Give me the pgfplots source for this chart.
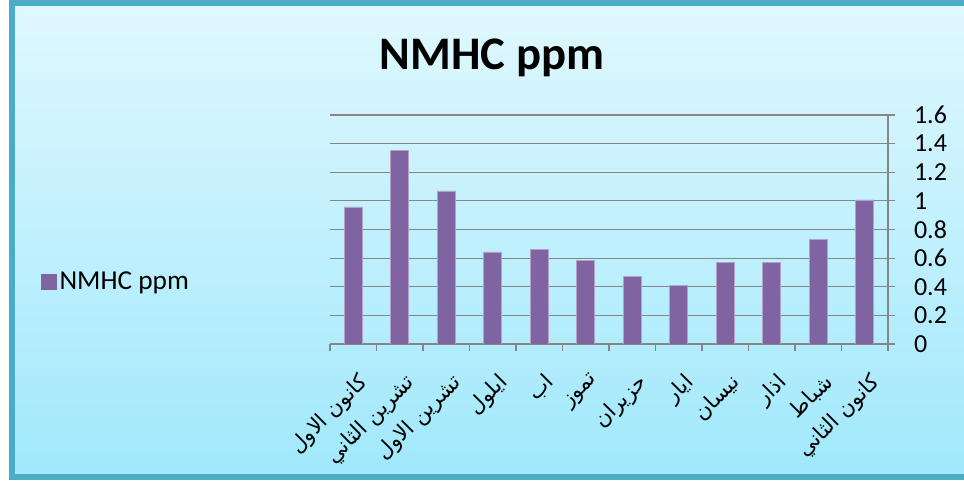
\documentclass[border=0pt]{standalone}
\usepackage{pgfplots}
\pgfplotsset{compat=1.18}
\usepackage{fontspec}
\setmainfont{Carlito}
\newfontfamily\arabicfont[Script=Arabic]{DejaVu Sans}
\TeXXeTstate=1
\definecolor{bgtop}{RGB}{224,248,254}
\definecolor{bgbot}{RGB}{160,232,252}
\definecolor{framec}{RGB}{75,172,198}
\definecolor{barc}{RGB}{128,100,162}
\definecolor{baredge}{RGB}{178,162,199}
\definecolor{gridc}{RGB}{134,134,134}
\pgfplotstableread{
x v
0 0.958
1 1.355
2 1.070
3 0.643
4 0.659
5 0.582
6 0.470
7 0.409
8 0.572
9 0.568
10 0.729
11 1.007
}\datatable
\begin{document}
\begin{tikzpicture}
\useasboundingbox (0,0) rectangle (723pt,360.75pt);
\clip (0,0) rectangle (723pt,360.75pt);
\fill[white] (0,0) rectangle (723pt,360.75pt);
\shade[top color=bgtop, bottom color=bgbot] (9pt,3pt) rectangle (730pt,358.5pt);
\draw[framec, line width=4.5pt] (9pt,3pt) rectangle (730pt,358.5pt);
\node[font=\fontsize{35}{40}\selectfont\bfseries, anchor=base] at (369pt,308.25pt) {NMHC ppm};
\begin{axis}[
  at={(247.5pt,102.75pt)}, anchor=south west,
  scale only axis, width=418.5pt, height=171.75pt,
  xmin=-0.5, xmax=11.5, ymin=0, ymax=1.6,
  axis x line*=bottom, axis y line*=right,
  axis line style={gridc, line width=0.8pt, -},
  ymajorgrids, grid style={gridc, line width=0.8pt},
  xtick={-0.5,0.5,...,11.5},
  x tick label as interval,
  xticklabels={{\arabicfont\beginR كانون الاول\endR},{\arabicfont\beginR تشرين الثاني\endR},{\arabicfont\beginR تشرين الاول\endR},{\arabicfont\beginR ايلول\endR},{\arabicfont\beginR اب\endR},{\arabicfont\beginR تموز\endR},{\arabicfont\beginR حزيران\endR},{\arabicfont\beginR ايار\endR},{\arabicfont\beginR نيسان\endR},{\arabicfont\beginR اذار\endR},{\arabicfont\beginR شباط\endR},{\arabicfont\beginR كانون الثاني\endR}},
  ytick={0,0.2,0.4,0.6,0.8,1,1.2,1.4,1.6},
  tick align=outside, major tick length=5pt,
  tick style={gridc, line width=0.8pt},
  xticklabel style={font=\fontsize{16}{19}\selectfont, yshift=-11pt, xshift=3pt, rotate=45, anchor=north east},
  yticklabel style={font=\fontsize{19.5}{21}\selectfont, xshift=11pt},
  /pgf/number format/assume math mode=true,
  ybar, bar width=13.5pt,
  legend style={at={(-0.518,0.271)}, anchor=west, draw=none, fill=none, inner sep=0pt, font=\fontsize{20.5}{22}\selectfont},
  legend image code/.code={\fill[barc] (0pt,-5.6pt) rectangle (11.25pt,5.6pt);},
]
\addplot[fill=barc, draw=baredge, line width=0.5pt] table[x=x,y=v] {\datatable};
\addlegendentry{NMHC ppm}
\end{axis}
\end{tikzpicture}
\end{document}
